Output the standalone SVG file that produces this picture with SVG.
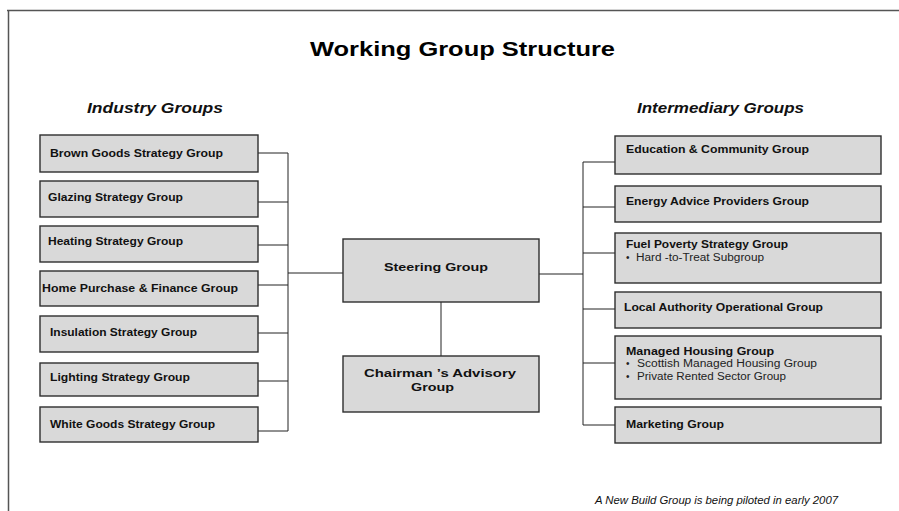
<svg xmlns="http://www.w3.org/2000/svg" width="899" height="511" viewBox="0 0 899 511">
<style>
.box{fill:#d9d9d9;stroke:#2e2e2e;stroke-width:1.4}
.t{font-family:"Liberation Sans",Arial,sans-serif;font-weight:bold;font-size:10.5px;fill:#111}
.s{font-family:"Liberation Sans",Arial,sans-serif;font-size:10px;fill:#222}
.hd{font-family:"Liberation Sans",Arial,sans-serif;font-weight:bold;font-style:italic;font-size:15px;fill:#111}
.c{fill:none;stroke:#222;stroke-width:1}
</style>
<rect width="899" height="511" fill="#fff"/>
<path d="M7 10.5H899M8.5 10V511" fill="none" stroke="#555" stroke-width="1.5"/>
<text x="310" y="56" font-family="'Liberation Sans',Arial,sans-serif" font-weight="bold" font-size="21" fill="#000" textLength="305" lengthAdjust="spacingAndGlyphs">Working Group Structure</text>
<text class="hd" x="87" y="113" textLength="136" lengthAdjust="spacingAndGlyphs">Industry Groups</text>
<text class="hd" x="637" y="113" textLength="167" lengthAdjust="spacingAndGlyphs">Intermediary Groups</text>
<g id="connectors">
<path class="c" d="M258 153H288M258 202H288M258 245H288M258 285H288M258 333H288M258 381H288M258 431H288M288 153V431M288 273H343"/>
<path class="c" d="M539 274H583M583 162V425M583 162H615M583 207H615M583 253H615M583 309H615M583 363H615M583 425H615"/>
<path class="c" d="M441 302V356"/>
</g>
<g id="brown"><rect class="box" x="40" y="135" width="218" height="37"/><text class="t" x="50" y="157" textLength="173" lengthAdjust="spacingAndGlyphs">Brown Goods Strategy Group</text></g>
<g id="glazing"><rect class="box" x="40" y="181" width="218" height="36"/><text class="t" x="48" y="201" textLength="135" lengthAdjust="spacingAndGlyphs">Glazing Strategy Group</text></g>
<g id="heating"><rect class="box" x="40" y="226" width="218" height="36"/><text class="t" x="48" y="245" textLength="135" lengthAdjust="spacingAndGlyphs">Heating Strategy Group</text></g>
<g id="home"><rect class="box" x="40" y="271" width="218" height="35"/><text class="t" x="42" y="292" textLength="196" lengthAdjust="spacingAndGlyphs">Home Purchase &amp; Finance Group</text></g>
<g id="insulation"><rect class="box" x="40" y="316" width="218" height="36"/><text class="t" x="50" y="336" textLength="147" lengthAdjust="spacingAndGlyphs">Insulation Strategy Group</text></g>
<g id="lighting"><rect class="box" x="40" y="363" width="218" height="33"/><text class="t" x="50" y="381" textLength="140" lengthAdjust="spacingAndGlyphs">Lighting Strategy Group</text></g>
<g id="white"><rect class="box" x="40" y="407" width="218" height="35"/><text class="t" x="50" y="428" textLength="165" lengthAdjust="spacingAndGlyphs">White Goods Strategy Group</text></g>
<g id="steering"><rect class="box" x="343" y="239" width="196" height="63"/><text class="t" x="384" y="271" font-size="12.5" textLength="104" lengthAdjust="spacingAndGlyphs">Steering Group</text></g>
<g id="chairman"><rect class="box" x="343" y="356" width="196" height="56"/><text class="t" x="364" y="377" font-size="12.5" textLength="152" lengthAdjust="spacingAndGlyphs">Chairman ’s Advisory</text><text class="t" x="411" y="391" font-size="12.5" textLength="43" lengthAdjust="spacingAndGlyphs">Group</text></g>
<g id="education"><rect class="box" x="615" y="136" width="266" height="38"/><text class="t" x="626" y="153" textLength="183" lengthAdjust="spacingAndGlyphs">Education &amp; Community Group</text></g>
<g id="energy"><rect class="box" x="615" y="186" width="266" height="36"/><text class="t" x="626" y="205" textLength="183" lengthAdjust="spacingAndGlyphs">Energy Advice Providers Group</text></g>
<g id="fuel"><rect class="box" x="615" y="233" width="266" height="50"/><text class="t" x="626" y="248" textLength="162" lengthAdjust="spacingAndGlyphs">Fuel Poverty Strategy Group</text><text class="s" x="626" y="261">•</text><text class="s" x="636" y="261" textLength="128" lengthAdjust="spacingAndGlyphs">Hard -to-Treat Subgroup</text></g>
<g id="local"><rect class="box" x="615" y="292" width="266" height="36"/><text class="t" x="624" y="311" textLength="199" lengthAdjust="spacingAndGlyphs">Local Authority Operational Group</text></g>
<g id="managed"><rect class="box" x="615" y="336" width="266" height="63"/><text class="t" x="626" y="355" textLength="148" lengthAdjust="spacingAndGlyphs">Managed Housing Group</text><text class="s" x="626" y="367">•</text><text class="s" x="637" y="367" textLength="180" lengthAdjust="spacingAndGlyphs">Scottish Managed Housing Group</text><text class="s" x="626" y="380">•</text><text class="s" x="637" y="380" textLength="149" lengthAdjust="spacingAndGlyphs">Private Rented Sector Group</text></g>
<g id="marketing"><rect class="box" x="615" y="407" width="266" height="36"/><text class="t" x="626" y="428" textLength="98" lengthAdjust="spacingAndGlyphs">Marketing Group</text></g>
<text x="595" y="504" font-family="'Liberation Sans',Arial,sans-serif" font-style="italic" font-size="10" fill="#111" textLength="243" lengthAdjust="spacingAndGlyphs">A New Build Group is being piloted in early 2007</text>
</svg>
